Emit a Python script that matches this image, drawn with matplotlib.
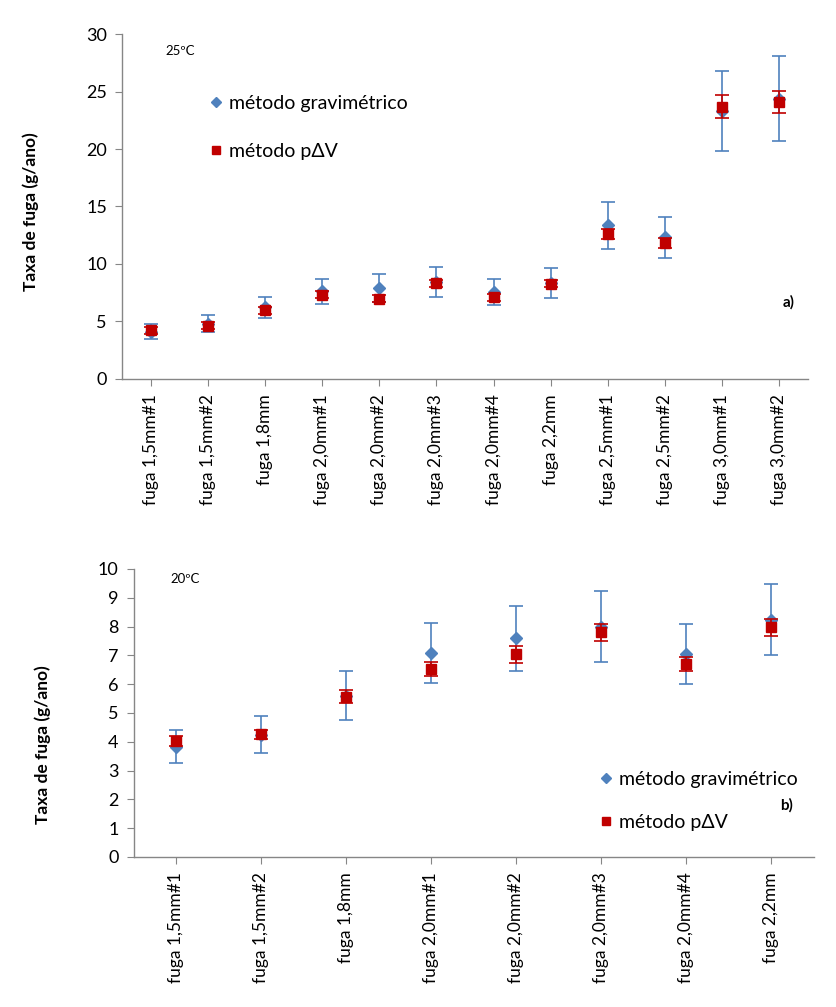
import matplotlib
matplotlib.use("Agg")
import matplotlib.pyplot as plt
import numpy as np

plt.rcParams['font.family'] = ['Lato', 'DejaVu Sans']

# ---- data: 25 ºC ----
cats_a = ["fuga 1,5mm#1", "fuga 1,5mm#2", "fuga 1,8mm", "fuga 2,0mm#1", "fuga 2,0mm#2",
          "fuga 2,0mm#3", "fuga 2,0mm#4", "fuga 2,2mm", "fuga 2,5mm#1", "fuga 2,5mm#2",
          "fuga 3,0mm#1", "fuga 3,0mm#2"]
grav_a = [4.1, 4.8, 6.2, 7.6, 7.9, 8.45, 7.55, 8.3, 13.35, 12.3, 23.3, 24.4]
grav_a_err = [0.65, 0.7, 0.95, 1.1, 1.2, 1.3, 1.13, 1.3, 2.05, 1.8, 3.5, 3.7]
pdv_a = [4.2, 4.6, 5.95, 7.3, 6.95, 8.3, 7.1, 8.25, 12.6, 11.8, 23.7, 24.1]
pdv_a_err = [0.3, 0.3, 0.3, 0.3, 0.3, 0.3, 0.3, 0.3, 0.4, 0.45, 1.0, 0.95]

# ---- data: 20 ºC ----
cats_b = ["fuga 1,5mm#1", "fuga 1,5mm#2", "fuga 1,8mm", "fuga 2,0mm#1", "fuga 2,0mm#2",
          "fuga 2,0mm#3", "fuga 2,0mm#4", "fuga 2,2mm"]
grav_b = [3.83, 4.25, 5.6, 7.08, 7.59, 8.0, 7.05, 8.24]
grav_b_err = [0.58, 0.64, 0.84, 1.05, 1.12, 1.22, 1.05, 1.24]
pdv_b = [4.03, 4.26, 5.56, 6.52, 7.04, 7.8, 6.69, 7.97]
pdv_b_err = [0.17, 0.15, 0.22, 0.24, 0.29, 0.3, 0.25, 0.3]

BLUE = "#4F81BD"
RED = "#C00000"
AXC = "#868686"

fig = plt.figure(figsize=(8.37, 10.07), dpi=100)
axA = fig.add_axes([0.146, 0.624, 0.819, 0.342])
axB = fig.add_axes([0.160, 0.149, 0.8125, 0.286])


def draw(ax, cats, g, ge, p, pe, ymax, ystep):
    x = np.arange(len(cats))
    ax.errorbar(x, g, yerr=ge, fmt='D', color=BLUE, ms=6.5, ecolor=BLUE, elinewidth=1.2,
                capsize=5, capthick=1.2, label="método gravimétrico", zorder=3)
    ax.errorbar(x, p, yerr=pe, fmt='s', color=RED, ms=7, ecolor=RED, elinewidth=1.2,
                capsize=5, capthick=1.2, label="método pΔV", zorder=4)
    ax.set_xlim(-0.5, len(cats) - 0.5)
    ax.set_ylim(0, ymax)
    ax.set_yticks(np.arange(0, ymax + 0.01, ystep))
    ax.set_xticks(x)
    ax.set_xticklabels(cats, rotation=90, fontsize=12.5)
    for s in ['top', 'right']:
        ax.spines[s].set_visible(False)
    for s in ['left', 'bottom']:
        ax.spines[s].set_color(AXC)
        ax.spines[s].set_linewidth(1.0)
    ax.tick_params(axis='y', direction='out', length=5, color=AXC, labelsize=13, pad=6)
    ax.tick_params(axis='x', direction='out', length=5, color=AXC, pad=6)
    ax.set_ylabel("Taxa de fuga (g/ano)", fontsize=12.5, fontweight='bold')


draw(axA, cats_a, grav_a, grav_a_err, pdv_a, pdv_a_err, 30, 5)
draw(axB, cats_b, grav_b, grav_b_err, pdv_b, pdv_b_err, 10, 1)
axA.yaxis.set_label_coords(-0.121, 0.484)
axB.yaxis.set_label_coords(-0.122, 0.389)

# legends
hA, lA = axA.get_legend_handles_labels()
hA = [h[0] for h in hA]
axA.legend(hA, lA, loc='upper left', bbox_to_anchor=(0.104, 0.875), frameon=False,
           fontsize=14, handlelength=0.55, handletextpad=0.4, labelspacing=1.6,
           markerscale=0.8)
hB, lB = axB.get_legend_handles_labels()
hB = [h[0] for h in hB]
axB.legend(hB, lB, loc='upper left', bbox_to_anchor=(0.66, 0.36), frameon=False,
           fontsize=14, handlelength=0.55, handletextpad=0.4, labelspacing=1.35,
           markerscale=0.8)

# annotations
axA.text(0.063, 0.97, "25ºC", transform=axA.transAxes, fontsize=9.5, va='top')
axA.text(0.963, 0.21, "a)", transform=axA.transAxes, fontsize=11, fontweight='bold')
axB.text(0.054, 0.985, "20ºC", transform=axB.transAxes, fontsize=9.5, va='top')
axB.text(0.95, 0.165, "b)", transform=axB.transAxes, fontsize=11, fontweight='bold')

fig.savefig("out.png", dpi=100)
